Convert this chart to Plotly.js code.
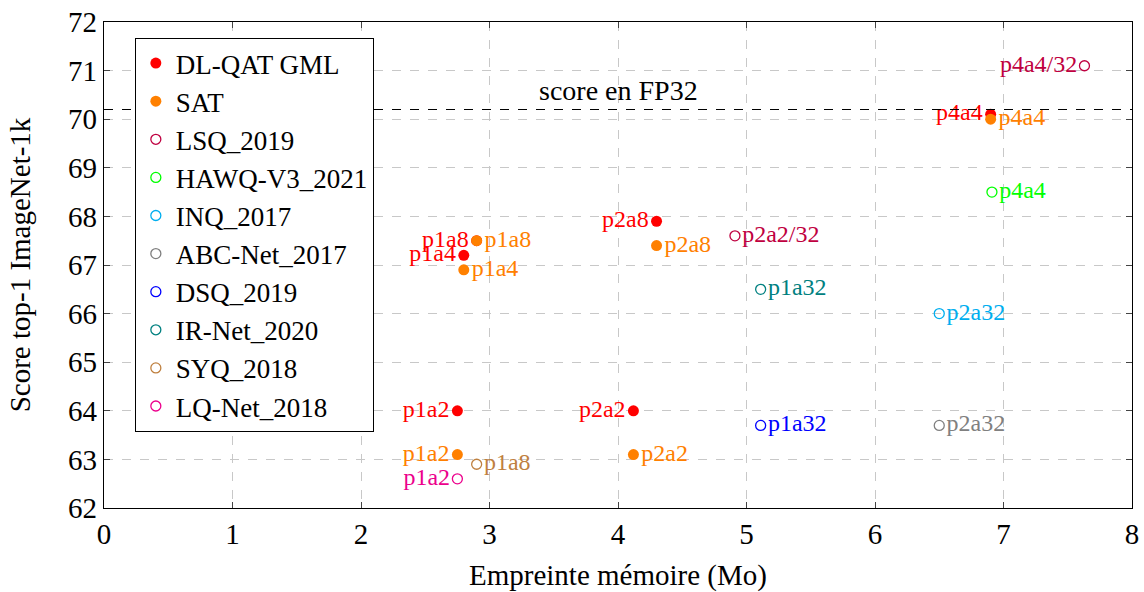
<!DOCTYPE html>
<html>
<head>
<meta charset="utf-8">
<script src="https://cdn.plot.ly/plotly-3.0.1.min.js"></script>
<style>html,body{margin:0;padding:0;background:#fff;}#chart{width:1144px;height:592px;}</style>
</head>
<body>
<div id="chart"></div>
<script>
// ---- data ----
const seriesNames = ["DL-QAT GML","SAT","LSQ_2019","HAWQ-V3_2021","INQ_2017","ABC-Net_2017","DSQ_2019","IR-Net_2020","SYQ_2018","LQ-Net_2018"];
const dlqatX = [2.75, 4.12, 2.8, 2.9, 4.3, 6.9];
const dlqatY = [64.0, 64.0, 67.2, 67.5, 67.9, 70.1];
const dlqatLabels = ["p1a2","p2a2","p1a4","p1a8","p2a8","p4a4"];
const satX = [2.75, 4.12, 2.8, 2.9, 4.3, 6.9];
const satY = [63.1, 63.1, 66.9, 67.5, 67.4, 70.0];
const satLabels = ["p1a2","p2a2","p1a4","p1a8","p2a8","p4a4"];
const lsqX = [7.63, 4.91];
const lsqY = [71.1, 67.6];
const lsqLabels = ["p4a4/32","p2a2/32"];
const hawqX = [6.91]; const hawqY = [68.5]; const hawqLabels = ["p4a4"];
const inqX = [6.5]; const inqY = [66.0]; const inqLabels = ["p2a32"];
const abcX = [6.5]; const abcY = [63.7]; const abcLabels = ["p2a32"];
const dsqX = [5.11]; const dsqY = [63.7]; const dsqLabels = ["p1a32"];
const irnetX = [5.11]; const irnetY = [66.5]; const irnetLabels = ["p1a32"];
const syqX = [2.9]; const syqY = [62.9]; const syqLabels = ["p1a8"];
const lqnetX = [2.75]; const lqnetY = [62.6]; const lqnetLabels = ["p1a2"];
const fp32Score = 70.2;
const xTicks = [0,1,2,3,4,5,6,7,8];
const yTicks = [62,63,64,65,66,67,68,69,70,71,72];

// ---- styles ----
const FONT = "Liberation Serif, DejaVu Serif, serif";
const colors = ["#ff0000","#ff8000","#bf0040","#00ff00","#00aeef","#808080","#0000ff","#008080","#bf8040","#ec008c"];
const filled = [true,true,false,false,false,false,false,false,false,false];
const allX = [dlqatX,satX,lsqX,hawqX,inqX,abcX,dsqX,irnetX,syqX,lqnetX];
const allY = [dlqatY,satY,lsqY,hawqY,inqY,abcY,dsqY,irnetY,syqY,lqnetY];
const allL = [dlqatLabels,satLabels,lsqLabels,hawqLabels,inqLabels,abcLabels,dsqLabels,irnetLabels,syqLabels,lqnetLabels];
const L = "middle left", R = "middle right";
const textPos = [
  [L,L,L,L,L,L],
  [L,R,R,R,R,R],
  [L,R],
  R,R,R,R,R,R,
  L
];

const traces = seriesNames.map((name,i)=>({
  type:"scatter", mode:"markers+text", name:name,
  x: allX[i], y: allY[i], text: allL[i],
  textposition: textPos[i],
  textfont:{family:FONT, size:24, color:colors[i]},
  legendgroup:"g"+i,
  marker: filled[i]
    ? {symbol:"circle", size:11, color:colors[i], line:{width:0}}
    : {symbol:"circle-open", size:10, color:colors[i], line:{width:1.3, color:colors[i]}},
  cliponaxis:false,
  hoverinfo:"skip"
}));

const layout = {
  width:1144, height:592,
  margin:{l:104, r:12, t:22, b:84},
  paper_bgcolor:"#fff", plot_bgcolor:"#fff",
  font:{family:FONT, color:"#000", size:26},
  showlegend:true,
  legend:{x:0.03, y:0.967, xanchor:"left", yanchor:"top",
    bgcolor:"#fff", bordercolor:"#000", borderwidth:1,
    font:{family:FONT, size:27, color:"#000"}, tracegroupgap:0, itemsizing:"trace",
    itemwidth:30},
  xaxis:{range:[0,8], tickvals:xTicks, ticks:"inside", ticklen:6, tickcolor:"#444",
    showline:true, linecolor:"#000", linewidth:1.2, mirror:"ticks",
    showgrid:true, gridcolor:"#c8c8c8", griddash:"dash", gridwidth:1, zeroline:false,
    tickfont:{family:FONT, size:29},
    title:{text:"Empreinte mémoire (Mo)", font:{family:FONT, size:29}, standoff:16}},
  yaxis:{range:[62,72], tickvals:yTicks, ticks:"inside", ticklen:6, tickcolor:"#444",
    showline:true, linecolor:"#000", linewidth:1.2, mirror:"ticks",
    showgrid:true, gridcolor:"#c8c8c8", griddash:"dash", gridwidth:1, zeroline:false,
    tickfont:{family:FONT, size:29},
    title:{text:"Score top-1 ImageNet-1k", font:{family:FONT, size:29}, standoff:28}},
  shapes:[{type:"line", xref:"paper", x0:0, x1:1, yref:"y", y0:fp32Score, y1:fp32Score,
    line:{color:"#000", width:1.2, dash:"dash"}, layer:"above"}],
  annotations:[{x:4, y:fp32Score, xref:"x", yref:"y", text:"score en FP32", showarrow:false,
    yanchor:"bottom", xanchor:"center", yshift:1, font:{family:FONT, size:28, color:"#000"}}]
};

Plotly.newPlot("chart", traces, layout, {staticPlot:true});
</script>
</body>
</html>
